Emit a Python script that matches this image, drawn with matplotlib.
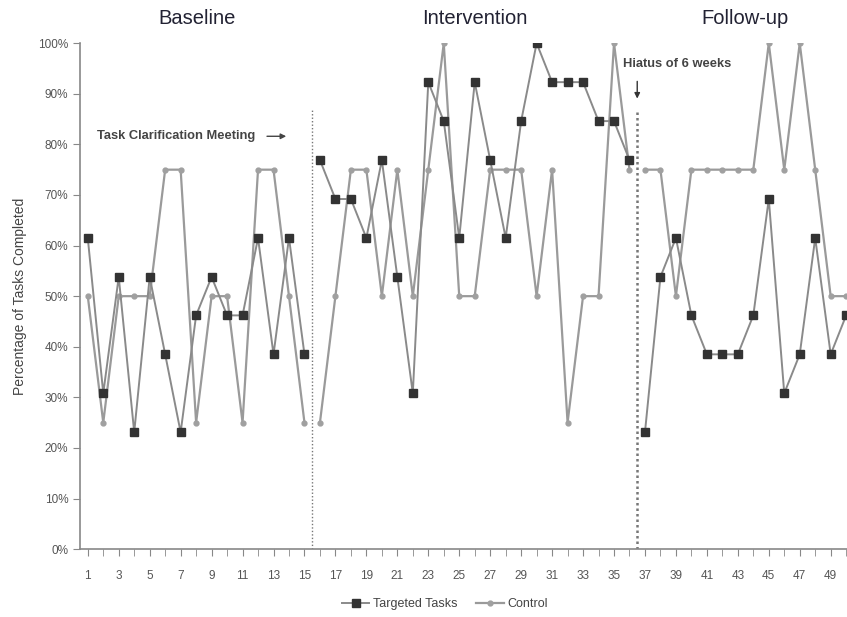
import matplotlib
matplotlib.use("Agg")
import matplotlib.pyplot as plt
import numpy as np

plt.rcParams['font.family'] = ['Liberation Sans', 'DejaVu Sans']

sessions = list(range(1, 51))
targeted = [61.5, 30.8, 53.8, 23.1, 53.8, 38.5, 23.1, 46.2, 53.8, 46.2,
            46.2, 61.5, 38.5, 61.5, 38.5, 76.9, 69.2, 69.2, 61.5, 76.9,
            53.8, 30.8, 92.3, 84.6, 61.5, 92.3, 76.9, 61.5, 84.6, 100,
            92.3, 92.3, 92.3, 84.6, 84.6, 76.9, 23.1, 53.8, 61.5, 46.2,
            38.5, 38.5, 38.5, 46.2, 69.2, 30.8, 38.5, 61.5, 38.5, 46.2]
control = [50, 25, 50, 50, 50, 75, 75, 25, 50, 50,
           25, 75, 75, 50, 25, 25, 50, 75, 75, 50,
           75, 50, 75, 100, 50, 50, 75, 75, 75, 50,
           75, 25, 50, 50, 100, 75, 75, 75, 50, 75,
           75, 75, 75, 75, 100, 75, 100, 75, 50, 50]
phase_names = ["Baseline", "Intervention", "Follow-up"]
phase_breaks = [15.5, 36.5]
y_ticks = list(range(0, 101, 10))
x_ticks = list(range(1, 50, 2))

fig = plt.figure(figsize=(8.47, 6.17), dpi=100)
ax = fig.add_axes([0.0945, 0.110, 0.91, 0.820])

segments = [(0, 15), (15, 36), (36, 50)]
for k, (a, b) in enumerate(segments):
    xs = sessions[a:b]
    ax.plot(xs, control[a:b], color='#9a9a9a', lw=1.6, marker='o', ms=3.5,
            mfc='#a0a0a0', mec='#a0a0a0', zorder=2,
            label='Control' if k == 0 else None)
    ax.plot(xs, targeted[a:b], color='#8a8a8a', lw=1.4, marker='s', ms=6,
            mfc='#333333', mec='#333333', zorder=3,
            label='Targeted Tasks' if k == 0 else None)

ax.axvline(phase_breaks[0], ymin=0, ymax=0.87, color='#777777', lw=1.0, ls=(0, (1, 1.5)))
ax.axvline(phase_breaks[1], ymin=0, ymax=0.87, color='#777777', lw=1.8, ls=(0, (1, 1.2)))

ax.set_xlim(0.5, 50.3)
ax.set_ylim(0, 100)
ax.set_yticks(y_ticks)
ax.set_yticklabels([f"{v}%" for v in y_ticks])
ax.set_xticks(x_ticks)
ax.set_xticks(sessions, minor=True)
ax.tick_params(axis='both', which='both', colors='#888888', labelcolor='#555555',
               labelsize=8.5, direction='out')
ax.tick_params(axis='y', length=5)
ax.tick_params(axis='x', which='major', length=5, pad=10)
ax.tick_params(axis='x', which='minor', length=5)
for s in ['top', 'right']:
    ax.spines[s].set_visible(False)
for s in ['left', 'bottom']:
    ax.spines[s].set_color('#888888')
    ax.spines[s].set_linewidth(1.2)

ax.set_ylabel("Percentage of Tasks Completed", fontsize=10, color='#444444', labelpad=8)

title_x = [197, 475, 745]
for name, px in zip(phase_names, title_x):
    fig.text(px / 847, 1 - 18 / 617, name, fontsize=14.5, color='#222233',
             ha='center', va='center')

ax.text(1.6, 81.6, "Task Clarification Meeting", fontsize=9.3, color='#444444',
        ha='left', va='center', fontweight='bold')
ax.annotate("", xy=(14.0, 81.6), xytext=(12.4, 81.6),
            arrowprops=dict(arrowstyle='-|>', color='#444444', lw=1, mutation_scale=8))
ax.text(35.55, 95.8, "Hiatus of 6 weeks", fontsize=9.3, color='#444444',
        ha='left', va='center', fontweight='bold')
ax.annotate("", xy=(phase_breaks[1], 88.5), xytext=(phase_breaks[1], 93.0),
            arrowprops=dict(arrowstyle='-|>', color='#333333', lw=1, mutation_scale=8))

handles, labels = ax.get_legend_handles_labels()
order = [labels.index('Targeted Tasks'), labels.index('Control')]
leg = fig.legend([handles[i] for i in order], [labels[i] for i in order],
                 loc='center', bbox_to_anchor=(445 / 847, 1 - 604 / 617), ncol=2,
                 frameon=False, fontsize=9, handlelength=2.2, columnspacing=1.5,
                 handletextpad=0.3)
for t in leg.get_texts():
    t.set_color('#444444')

fig.savefig("out.png", dpi=100)
